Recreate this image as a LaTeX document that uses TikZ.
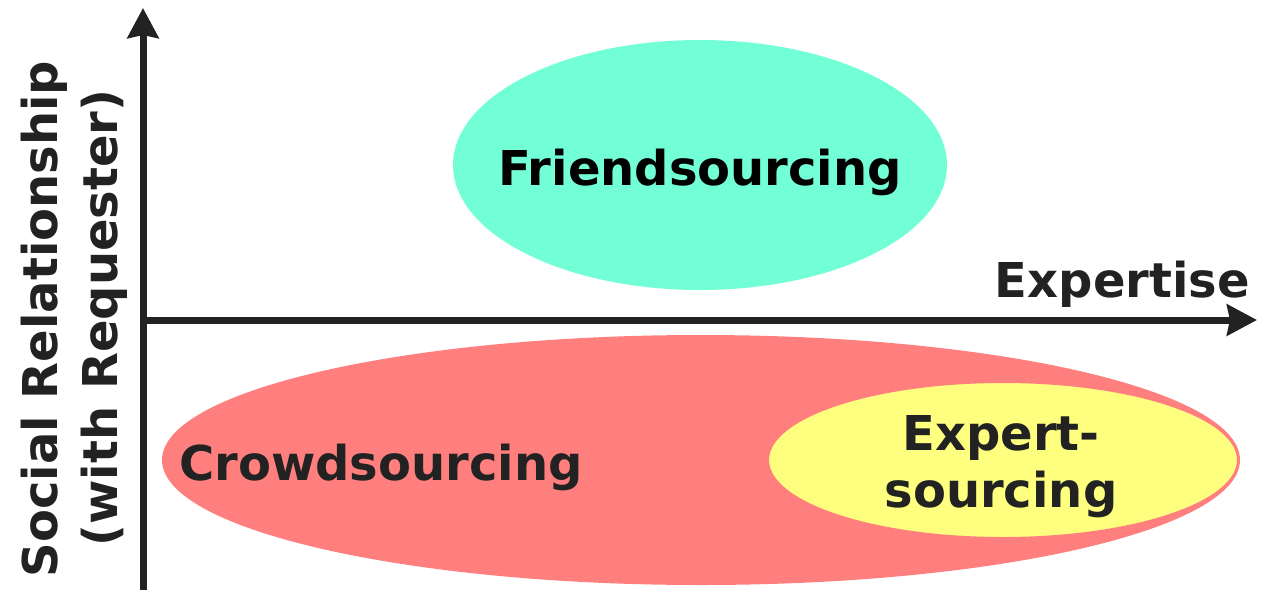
\documentclass[tikz,border=0pt]{standalone}
\usepackage{fontspec}
\setmainfont{DejaVu Sans}
\usetikzlibrary{shapes.geometric,arrows.meta}
\definecolor{friendc}{HTML}{73FFD6}
\definecolor{crowdc}{HTML}{FF7F7F}
\definecolor{expertc}{HTML}{FFFF7F}
\definecolor{inkc}{HTML}{222222}
\tikzset{
  blob/.style={ellipse, inner sep=0pt, draw=none},
  lbl/.style={inner sep=0pt, font=\fontsize{48}{57}\selectfont\bfseries, text=inkc},
  axis/.style={draw=inkc, line width=7pt, -{Stealth[length=30pt,width=31pt,inset=3pt]}}
}
\begin{document}
\begin{tikzpicture}[x=1pt,y=-1pt]
\useasboundingbox (0,0) rectangle (1280,600);
\node[blob, fill=friendc, minimum width=494pt, minimum height=250pt] (friend) at (700,165) {};
\node[blob, fill=crowdc, minimum width=1078pt, minimum height=250pt] (crowd) at (701,460) {};
\node[blob, fill=expertc, draw=crowdc, line width=2pt, minimum width=470pt, minimum height=156pt] (expert) at (1003,460) {};
\node[lbl, text=black, anchor=base] (tfriend) at (700,185) {Friendsourcing};
\node[lbl, anchor=base west] (tcrowd) at (179,480) {Crowdsourcing};
\node[lbl, anchor=base] (texp1) at (1001,450) {Expert-};
\node[lbl, anchor=base] (texp2) at (1001,507) {sourcing};
\node[lbl, anchor=base east] (txaxis) at (1250,297) {Expertise};
\node[lbl, anchor=base, rotate=90] (tyaxis1) at (57,319) {Social Relationship};
\node[lbl, anchor=base, rotate=90] (tyaxis2) at (117,318) {(with Requester)};
\coordinate (ybot) at (143,590);
\coordinate (ytop) at (143,8);
\coordinate (xorig) at (143,320);
\coordinate (xend) at (1257,320);
\draw[axis] (ybot) -- (ytop);
\draw[axis] (xorig) -- (xend);
\end{tikzpicture}
\end{document}
